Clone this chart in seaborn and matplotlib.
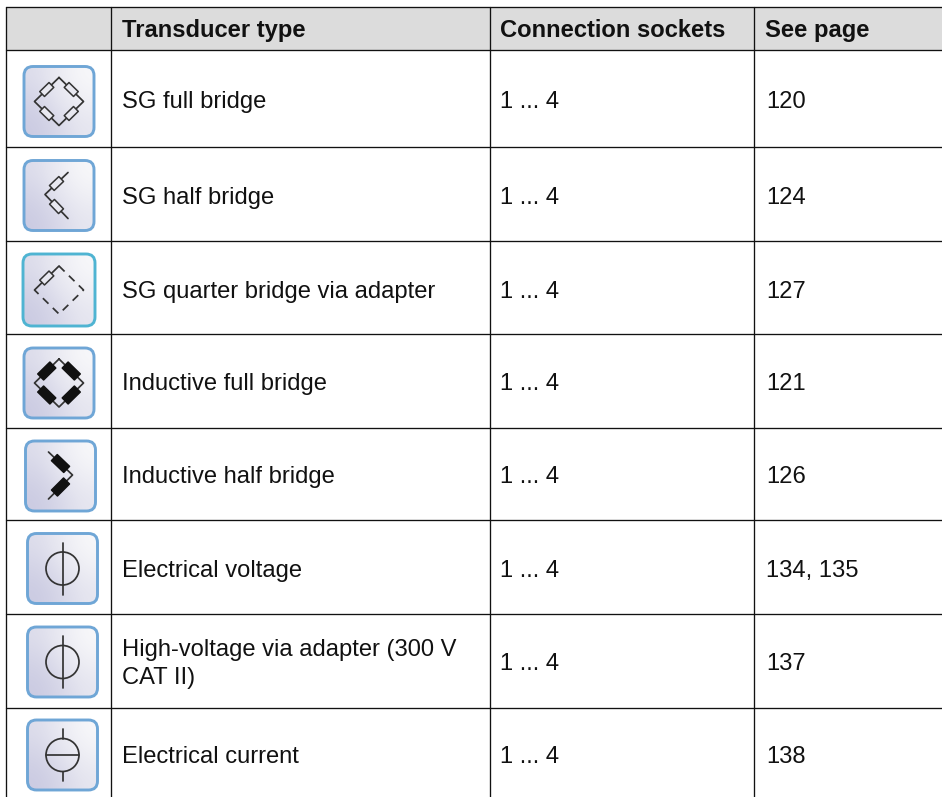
import numpy as np
import matplotlib
matplotlib.use("Agg")
import matplotlib.pyplot as plt
from matplotlib.patches import FancyBboxPatch, Polygon, Circle
import seaborn as sns

headers = ["Transducer type", "Connection sockets", "See page"]
types = ["SG full bridge", "SG half bridge", "SG quarter bridge via adapter",
         "Inductive full bridge", "Inductive half bridge", "Electrical voltage",
         "High-voltage via adapter (300 V\nCAT II)", "Electrical current"]
sockets = ["1 ... 4"] * 8
pages = ["120", "124", "127", "121", "126", "134, 135", "137", "138"]
icons = ["sg_full", "sg_half", "sg_quarter", "ind_full", "ind_half", "voltage", "voltage", "current"]

# layout in pixels
W, H = 942, 797
col_x = [5.5, 111, 489.5, 753.5]
row_y = [6.5, 49.5, 147, 241, 334, 427.5, 520, 613.5, 707.5]
icon_x = [59, 59, 59, 59, 60.5, 62.5, 62.5, 62.5]
icon_y = [101.5, 195.5, 290, 383, 476, 568.5, 662, 755]
base_y = [107.7, 203.7, 297.7, 389.7, 482.7, 576.7, 669.7, 762.7]
FS = 17.15

sns.set_theme(style="white")
plt.rcParams['font.family'] = ['Liberation Sans', 'DejaVu Sans']
INK = "#333333"
grad = sns.blend_palette(["#cbcbe2", "#e4e4ef", "#f8f8fa"], as_cmap=True)

fig = plt.figure(figsize=(W / 100, H / 100), dpi=100)
ax = fig.add_axes([0, 0, 1, 1])


def wire(pts, ls="-", lw=1.25, color=INK, z=5):
    pts = np.array(pts, dtype=float)
    sns.lineplot(x=pts[:, 0], y=pts[:, 1], ax=ax, sort=False, estimator=None,
                 color=color, linewidth=lw, linestyle=ls, zorder=z)


def resistor(a, b, filled):
    # small rotated box in the middle of segment a-b
    a, b = np.array(a, dtype=float), np.array(b, dtype=float)
    m = (a + b) / 2
    u = (b - a) / np.linalg.norm(b - a)
    n = np.array([-u[1], u[0]])
    ln, wd = (8.5, 4.2) if filled else (6.5, 3.4)
    box = [m + u * ln + n * wd, m + u * ln - n * wd, m - u * ln - n * wd, m - u * ln + n * wd]
    ax.add_patch(Polygon(box, closed=True, fc="#111111" if filled else "#e8e8f0",
                         ec="#111111" if filled else INK, lw=1.1, joinstyle="round", zorder=6))


def draw_icon(kind, cx, cy):
    side = 72 if kind == "sg_quarter" else 70
    edge = "#4fb4d2" if kind == "sg_quarter" else "#6fa6d6"
    x0, y0 = cx - side / 2, cy - side / 2
    frame = FancyBboxPatch((x0 + 8, y0 + 8), side - 16, side - 16,
                           boxstyle="round,pad=8,rounding_size=9", fc="none", ec=edge, lw=2.1, zorder=4)
    ax.add_patch(frame)
    g = np.array([[0.35, 0.7, 1.0], [0.15, 0.5, 0.8], [0.0, 0.25, 0.55]])
    img = ax.imshow(g, extent=(x0, x0 + side, y0 + side, y0), cmap=grad, vmin=0, vmax=1,
                    aspect="auto", interpolation="bicubic", zorder=3)
    img.set_clip_path(frame)

    top, left = (cx, cy - 24), (cx - 24.5, cy)
    right, bottom = (cx + 24.5, cy), (cx, cy + 24)
    if kind in ("sg_full", "ind_full"):
        wire([top, right, bottom, left, top])
        for a, b in [(top, right), (right, bottom), (bottom, left), (left, top)]:
            resistor(a, b, kind == "ind_full")
    elif kind == "sg_quarter":
        wire([left, top])
        wire([top, right, bottom, left], ls=(0, (4.5, 3.5)))
        resistor(left, top, False)
    elif kind == "sg_half":
        a, c, b = (cx + 9, cy - 23), (cx - 14, cy - 1), (cx + 9, cy + 23)
        wire([a, c, b])
        resistor(a, c, False)
        resistor(c, b, False)
    elif kind == "ind_half":
        a, c, b = (cx - 12, cy - 24), (cx + 12, cy - 1), (cx - 12, cy + 23)
        wire([a, c, b])
        resistor(a, c, True)
        resistor(c, b, True)
    else:
        ax.add_patch(Circle((cx, cy), 16.5, fc="none", ec=INK, lw=1.25, zorder=5))
        if kind == "voltage":
            wire([(cx, cy - 26), (cx, cy + 26)])
        else:
            wire([(cx, cy - 26), (cx, cy - 16.5)])
            wire([(cx, cy + 16.5), (cx, cy + 26)])
            wire([(cx - 16.5, cy), (cx + 16.5, cy)])


# header band
ax.fill_between([col_x[0], W], row_y[0], row_y[1], color="#dcdcdc", lw=0, zorder=1)

# grid
for y in row_y:
    wire([(col_x[0], y), (W, y)], lw=0.95, color="#111111", z=2)
for x in col_x:
    wire([(x, row_y[0]), (x, H)], lw=0.95, color="#111111", z=2)

# header text
for x, lab in zip([122, 500, 765], headers):
    ax.text(x, 36.5, lab, fontsize=FS, fontweight="bold", color="#111111", va="baseline")

# rows
for i, kind in enumerate(icons):
    draw_icon(kind, icon_x[i], icon_y[i])
    if "\n" in types[i]:
        l1, l2 = types[i].split("\n")
        ax.text(122, base_y[i] - 14, l1, fontsize=FS, color="#111111", va="baseline")
        ax.text(122, base_y[i] + 14, l2, fontsize=FS, color="#111111", va="baseline")
    else:
        ax.text(122, base_y[i], types[i], fontsize=FS, color="#111111", va="baseline")
    ax.text(500, base_y[i], sockets[i], fontsize=FS, color="#111111", va="baseline")
    ax.text(766, base_y[i], pages[i], fontsize=FS, color="#111111", va="baseline")

ax.set_xlim(0, W)
ax.set_ylim(H, 0)
ax.set_axis_off()
fig.savefig("out.png", dpi=100, facecolor="white")
